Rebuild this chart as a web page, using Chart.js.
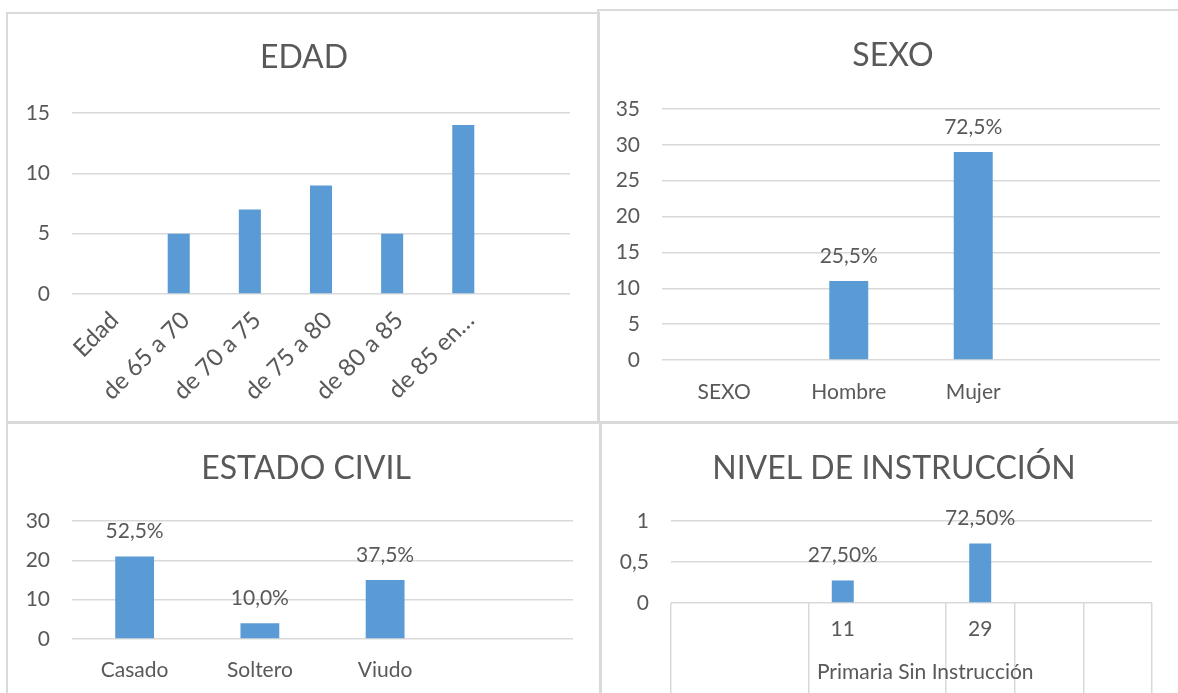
<!DOCTYPE html>
<html>
<head>
<meta charset="utf-8">
<script src="https://cdn.jsdelivr.net/npm/chart.js@4.4.1/dist/chart.umd.min.js"></script>
<style>
html, body { margin: 0; padding: 0; background: #fff; width: 1178px; height: 693px; overflow: hidden; }
.panel { position: absolute; border: 2px solid #dadada; box-sizing: border-box; }
canvas { position: absolute; }
</style>
</head>
<body>
<div class="panel" style="left:6px;top:12px;width:594px;height:412px"></div>
<div class="panel" style="left:597px;top:9px;width:600px;height:415px"></div>
<div class="panel" style="left:6px;top:421px;width:596px;height:300px"></div>
<div class="panel" style="left:599px;top:421px;width:600px;height:300px"></div>

<canvas id="edad" width="590" height="405" style="left:9px;top:15px"></canvas>
<canvas id="sexo" width="586" height="408" style="left:600px;top:12px"></canvas>
<canvas id="civil" width="594" height="269" style="left:9px;top:424px"></canvas>
<canvas id="nivel" width="584" height="269" style="left:602px;top:424px"></canvas>

<script>
var BLUE = '#5b9bd5';
var GRID = '#d9d9d9';
var TEXT = '#595959';

// EDAD
var edadCats = ['Edad', 'de 65 a 70', 'de 70 a 75', 'de 75 a 80', 'de 80 a 85', 'de 85 en…', ''];
var edadVals = [null, 5, 7, 9, 5, 14, null];

// SEXO
var sexoCats = ['SEXO', 'Hombre', 'Mujer', ''];
var sexoVals = [null, 11, 29, null];
var sexoPct = ['', '25,5%', '72,5%', ''];

// ESTADO CIVIL
var civilCats = ['Casado', 'Soltero', 'Viudo', ''];
var civilVals = [21, 4, 15, null];
var civilPct = ['52,5%', '10,0%', '37,5%', ''];

// NIVEL DE INSTRUCCION
var nivelCats = ['', '', '11', '', '29', '', ''];
var nivelVals = [null, null, 0.275, null, 0.725, null, null];
var nivelPct = ['', '', '27,50%', '', '72,50%', '', ''];
var nivelGroup = 'Primaria Sin Instrucción';
var nivelGroupAt = 3.4;
var nivelBounds = [0, 2, 4, 5, 6];   // category edges that get a separator line

Chart.defaults.font.family = 'Lato, "Open Sans", sans-serif';
Chart.defaults.color = TEXT;

// value labels above the bars
var barLabels = {
  id: 'barLabels',
  afterDatasetsDraw: function(chart, args, opts) {
    if (!opts.texts) return;
    var ctx = chart.ctx;
    var meta = chart.getDatasetMeta(0);
    ctx.save();
    ctx.font = '21px Lato';
    ctx.fillStyle = TEXT;
    ctx.textAlign = 'center';
    ctx.textBaseline = 'middle';
    meta.data.forEach(function(bar, i) {
      var t = opts.texts[i];
      if (t) ctx.fillText(t, bar.x, bar.y - 25);
    });
    ctx.restore();
  }
};

function makeChart(id, title, cats, vals, o) {
  var el = document.getElementById(id);
  var W = el.width;
  var scales = {
    x: {
      grid: { display: false },
      border: { display: false },
      ticks: {
        color: TEXT, font: { size: o.xFont || 21 }, padding: o.xPad, autoSkip: false,
        maxRotation: o.rot || 0, minRotation: o.rot || 0, labelOffset: o.xShift || 0
      },
      afterFit: function(s) { s.height = o.xH; }
    },
    y: {
      min: 0, max: o.yMax,
      grid: { color: GRID, lineWidth: 1.5, drawTicks: false },
      border: { display: false },
      ticks: {
        stepSize: o.step, color: TEXT, font: { size: 21 }, padding: 22,
        callback: function(v) { return String(v).replace('.', ','); }
      },
      afterFit: function(s) { s.width = o.left; }
    },
    yR: {
      position: 'right',
      grid: { display: false }, border: { display: false }, ticks: { display: false },
      afterFit: function(s) { s.width = W - o.right; }
    }
  };
  if (o.extraScales) o.extraScales(scales);

  return new Chart(el, {
    type: 'bar',
    data: {
      labels: cats,
      datasets: [{
        data: vals,
        backgroundColor: BLUE,
        borderWidth: 0,
        categoryPercentage: 1,
        barPercentage: o.bar
      }]
    },
    options: {
      responsive: false,
      animation: false,
      layout: { padding: 0 },
      plugins: {
        legend: { display: false },
        tooltip: { enabled: false },
        title: {
          display: true, text: title, color: TEXT,
          font: { size: 32, weight: 'normal' },
          padding: { top: o.tTop, bottom: o.tBot }
        },
        barLabels: { texts: o.texts }
      },
      scales: scales
    },
    plugins: [barLabels]
  });
}

makeChart('edad', 'EDAD', edadCats, edadVals, {
  yMax: 15, step: 5, left: 63, right: 561, xH: 126, xPad: 4, rot: 45, xFont: 24, xShift: 7,
  tTop: 23, tBot: 36.6, bar: 0.31
});

makeChart('sexo', 'SEXO', sexoCats, sexoVals, {
  yMax: 35, step: 5, left: 62, right: 560, xH: 60, xPad: 12,
  tTop: 24, tBot: 34.6, bar: 0.313, texts: sexoPct
});

makeChart('civil', 'ESTADO CIVIL', civilCats, civilVals, {
  yMax: 30, step: 10, left: 63, right: 564, xH: 54, xPad: 11,
  tTop: 25, tBot: 33.6, bar: 0.31, texts: civilPct
});

makeChart('nivel', 'NIVEL DE INSTRUCCIÓN', nivelCats, nivelVals, {
  yMax: 1, step: 0.5, left: 69, right: 550, xH: 45, xPad: -81,
  tTop: 25, tBot: 33.6, bar: 0.32, texts: nivelPct,
  extraScales: function(sc) {
    sc.x.grid = {
      display: true, offset: true, drawOnChartArea: false, drawTicks: true,
      tickLength: 95, lineWidth: 1.5,
      color: function(c) {
        return (c.index === undefined || nivelBounds.indexOf(c.index) >= 0) ? GRID : 'rgba(0,0,0,0)';
      }
    };
    sc.x2 = {
      type: 'linear', position: 'bottom', min: -0.5, max: 6.5,
      grid: { display: false }, border: { display: false },
      afterBuildTicks: function(s) { s.ticks = [{ value: nivelGroupAt }]; },
      ticks: { color: TEXT, font: { size: 21 }, padding: 4, callback: function() { return nivelGroup; } },
      afterFit: function(s) { s.height = 45; }
    };
  }
});
</script>
</body>
</html>
